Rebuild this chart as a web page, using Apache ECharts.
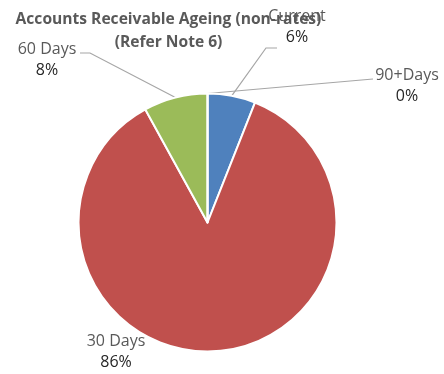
<!DOCTYPE html>
<html>
<head>
<meta charset="utf-8">
<script src="https://cdn.jsdelivr.net/npm/echarts@6/dist/echarts.min.js"></script>
<style>
  html, body { margin: 0; padding: 0; background: #fff; }
  #chart { width: 444px; height: 374px; }
</style>
</head>
<body>
<div id="chart"></div>
<script>
// Ageing buckets and their share of non-rates receivables (%)
const categories = ['Current', '30 Days', '60 Days', '90+Days'];
const shares = [6, 86, 8, 0];
const sliceColors = ['#4F81BD', '#C0504D', '#9BBB59', '#8064A2'];

// Where each bucket's label sits (text centre) and the elbow of its leader line
const labelSpots = {
  'Current': { x: 297, y: 27, line: [[266, 48], [277, 48]] },
  '30 Days': { x: 116, y: 352, line: null },
  '60 Days': { x: 47, y: 60, line: [[90, 53], [80, 53]] },
  '90+Days': { x: 407, y: 86, line: [[373, 79]] }
};

const LABEL_BOX = 90;

const chart = echarts.init(document.getElementById('chart'), null, { renderer: 'canvas' });

const font = '"Open Sans", "Noto Sans", sans-serif';

chart.setOption({
  animation: false,
  backgroundColor: '#ffffff',
  title: {
    text: 'Accounts Receivable Ageing (non-rates)\n(Refer Note 6)',
    left: 163.5,
    top: 3,
    textAlign: 'center',
    textStyle: {
      fontFamily: font,
      fontSize: 15.6,
      fontWeight: 'bold',
      color: '#595959',
      lineHeight: 23
    }
  },
  series: [{
    type: 'pie',
    center: [207.5, 222.5],
    radius: 129,
    startAngle: 90,
    clockwise: true,
    avoidLabelOverlap: false,
    itemStyle: { borderColor: '#ffffff', borderWidth: 2 },
    label: {
      show: true,
      position: 'outside',
      formatter: p => '{n|' + p.name + '}\n{p|' + Math.round(p.percent) + '%}',
      rich: {
        n: { fontFamily: font, fontSize: 16, color: '#595959', lineHeight: 21, align: 'center', width: LABEL_BOX },
        p: { fontFamily: font, fontSize: 16, color: '#262626', lineHeight: 21, align: 'center', width: LABEL_BOX }
      }
    },
    labelLine: { show: true, lineStyle: { color: '#A6A6A6', width: 1.2 } },
    labelLayout: function (params) {
      const name = categories[params.dataIndex];
      const spot = labelSpots[name];
      const out = { x: spot.x - LABEL_BOX / 2, y: spot.y, align: 'left', verticalAlign: 'middle' };
      if (spot.line && params.labelLinePoints) {
        out.labelLinePoints = [params.labelLinePoints[0]].concat(spot.line);
      }
      return out;
    },
    data: categories.map((name, i) => ({
      name: name,
      value: shares[i],
      itemStyle: { color: sliceColors[i] },
      labelLine: { show: labelSpots[name].line !== null }
    }))
  }]
});
</script>
</body>
</html>
